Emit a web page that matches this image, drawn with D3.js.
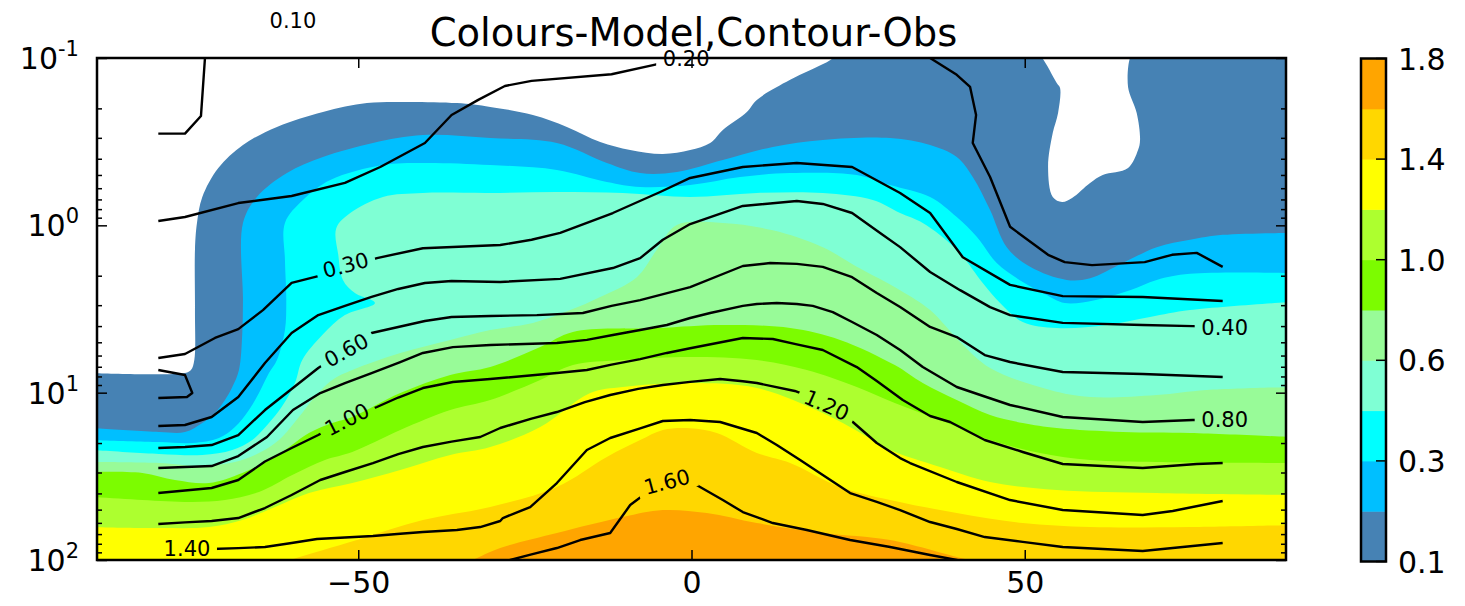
<!DOCTYPE html>
<html><head><meta charset="utf-8">
<script src="https://cdn.jsdelivr.net/npm/d3@7"></script>
<style>
body{margin:0;background:#fff}
svg{display:block}
text{font-family:"DejaVu Sans",sans-serif;fill:#000}
</style></head>
<body><svg id="c" width="1465" height="606"></svg>
<script>
// ---------------- DATA ----------------
const levels = [0.1,0.2,0.3,0.4,0.6,0.8,1.0,1.2,1.4,1.6,1.8];
const fillColors = ['#4682b4','#00bfff','#00ffff','#7fffd4','#98fb98','#7cfc00','#adff2f','#ffff00','#ffd700','#ffa500'];
const cbarTicks = [0.1,0.3,0.6,1.0,1.4,1.8];
const xTicks = [-50,0,50];
const yTickValues = [0.1,1,10,100];
const yTickExponents = ['-1','0','1','2'];
const yMinorTicks = [0.2,0.3,0.4,0.5,0.6,0.7,0.8,0.9,2,3,4,5,6,7,8,9,20,30,40,50,60,70,80,90];

// Model (filled) : lower boundary of each level, [latitude, pressure hPa]
const model010 = [[-90,7.63],[-76,7.63],[-75.1,7.32],[-74.6,6.38],[-74.5,3.21],[-74.5,1.40],[-74.2,0.968],[-73.4,0.677],[-71,0.454],[-67.3,0.331],[-62.2,0.258],[-55.3,0.210],[-48.7,0.186],[-43.3,0.183],[-35.2,0.186],[-30.2,0.196],[-23.8,0.219],[-18.7,0.258],[-13.7,0.318],[-9.2,0.355],[-4.3,0.375],[-0.2,0.355],[2.8,0.322],[4.7,0.269],[8.3,0.210],[9.8,0.178],[14.8,0.135],[20.3,0.106],[22.3,0.096],[52,0.096],[52.6,0.1],[54.8,0.141],[55.3,0.151],[55.0,0.213],[54.2,0.281],[53.5,0.448],[54.2,0.677],[55.6,0.725],[57.1,0.686],[59.8,0.558],[61.7,0.500],[65.5,0.454],[67.0,0.355],[67.3,0.309],[66.8,0.213],[65.5,0.149],[65.8,0.1],[66.2,0.096],[90,0.096]];
const model020 = [[-90,16.26],[-79.9,17.18],[-76,17.18],[-73.4,15.18],[-71.5,13.23],[-70,11.06],[-68.9,9.25],[-67.9,7.32],[-67.4,4.40],[-67.3,2.80],[-67.3,0.968],[-65.2,0.677],[-60.7,0.487],[-55.3,0.391],[-47.8,0.322],[-40.3,0.289],[-30.2,0.301],[-20.2,0.322],[-12.7,0.424],[-7.7,0.487],[-2.2,0.480],[4.7,0.407],[12.2,0.340],[19.7,0.309],[29.8,0.301],[35.8,0.331],[39.8,0.391],[42.2,0.514],[44.8,0.810],[47.3,1.35],[50.8,1.77],[56.3,2.12],[59.8,2.07],[64.7,1.68],[69.8,1.35],[74.8,1.22],[79.7,1.14],[90,1.11]];
const model030 = [[-90,19.18],[-79.9,19.72],[-74.9,19.99],[-70.9,18.66],[-68.5,16.04],[-66.4,12.70],[-64.9,10.05],[-63.4,7.63],[-62.2,6.38],[-61,4.22],[-60.8,2.80],[-61,1.61],[-61,0.968],[-58.3,0.706],[-54.2,0.536],[-46.3,0.436],[-40.3,0.424],[-30.2,0.436],[-20.2,0.467],[-12.7,0.551],[-7.7,0.590],[-0.2,0.574],[7.3,0.514],[14.8,0.487],[24.8,0.500],[29.8,0.574],[35.8,0.677],[39.8,0.892],[42.8,1.17],[45.8,1.68],[49.7,2.18],[53,2.57],[56,2.91],[60.5,2.80],[65.8,2.44],[69.8,2.12],[74.8,1.95],[90,1.93]];
const model040 = [[-90,22.01],[-79.9,23.26],[-73.4,23.58],[-68.9,22.01],[-65.9,19.18],[-63.4,15.18],[-61.5,12.18],[-59.5,8.76],[-58.4,6.38],[-55.4,4.52],[-52,3.44],[-47.5,2.91],[-50.5,2.54],[-52.3,2.12],[-53,1.50],[-53.3,1.04],[-51.2,0.844],[-46.3,0.677],[-40.3,0.641],[-30.2,0.641],[-20.2,0.632],[-10.3,0.641],[-0.2,0.677],[9.8,0.641],[19.7,0.641],[27.2,0.706],[31.3,0.844],[34.7,0.968],[39.8,1.40],[43.7,2.21],[46.3,2.91],[49.7,3.78],[54.8,4.11],[62.3,3.94],[68.8,3.53],[74.8,3.21],[90,2.87]];
const model060 = [[-90,25.97],[-79.9,26.33],[-73.4,27.44],[-68.5,25.97],[-64.9,22.94],[-61.9,19.18],[-58.9,13.98],[-56.9,11.06],[-53.9,8.40],[-50.9,7.32],[-43.7,5.79],[-36.2,4.84],[-30.2,4.22],[-23.8,3.83],[-18.2,3.21],[-13.7,2.68],[-8.2,2.04],[-5.2,1.40],[-2.2,0.995],[4.7,0.968],[12.2,1.07],[19.7,1.35],[24.8,1.77],[31.3,2.44],[35.8,3.21],[40.3,4.98],[44.8,7.12],[53.8,9.64],[59.8,10.62],[69.8,10.33],[77.3,9.64],[90,9.25]];
const model080 = [[-90,29.79],[-82.4,30.20],[-77.5,33.26],[-72.4,34.67],[-67.4,30.20],[-62.5,24.24],[-57.4,17.42],[-53.9,15.18],[-50.9,13.98],[-43.7,10.05],[-36.2,7.84],[-30.2,7.03],[-22.7,5.34],[-17.8,4.34],[-5.2,4.11],[4.7,3.94],[14.8,4.11],[22.3,4.84],[30.5,6.84],[34.7,8.76],[39.8,11.06],[44.8,13.60],[49.7,15.18],[54.8,16.26],[64.7,17.18],[74.8,17.42],[90,18.40]];
const model100 = [[-90,42.04],[-82.4,43.82],[-74.9,45.03],[-70,43.82],[-64.9,39.24],[-59.9,31.05],[-55,25.26],[-50.9,22.62],[-43.7,16.72],[-36.2,12.70],[-30.2,11.06],[-22.7,8.40],[-17.8,6.84],[-10.3,6.38],[-0.2,6.12],[9.8,6.38],[17.3,7.32],[24.8,9.25],[30.5,11.53],[37.3,14.57],[44.8,19.18],[52.3,22.94],[59.8,25.26],[69.8,25.97],[90,26.33]];
const model120 = [[-90,63.53],[-79.9,64.41],[-72.4,63.53],[-67.4,57.68],[-62.5,48.24],[-57.4,39.79],[-50.9,34.67],[-43.7,28.98],[-36.2,23.58],[-30.2,21.12],[-22.7,16.04],[-15.2,10.05],[-10.3,9.25],[-0.2,8.76],[9.8,9.38],[19.7,13.23],[27.2,19.18],[29.8,22.01],[37.3,27.81],[44.8,34.19],[54.8,38.17],[69.8,39.79],[90,40.90]];
const model140 = [[-90,130],[-64,112],[-60.2,100],[-50.2,76.0],[-40.3,57.7],[-30.2,48.2],[-20.2,36.6],[-12.7,24.2],[-7.7,19.2],[-4.3,16.7],[-0.2,16.3],[3.8,17.4],[9.8,22.9],[14.8,26.3],[22.3,36.6],[29.8,43.8],[39.8,52.4],[49.7,60.1],[59.8,63.5],[74.8,63.5],[90,61.8]];
const model160 = [[-90,130],[-37,112],[-33.2,101],[-28.7,84.8],[-20.2,69.0],[-10.3,55.4],[-4.3,50.3],[2.3,52.4],[9.8,60.1],[19.7,69.0],[29.8,76.0],[39.8,96.0],[42.5,102],[46,115],[90,130]];

// Obs (contour lines), [latitude, pressure hPa]
const obs010 = [[-80,0.283],[-76,0.283],[-73.6,0.222],[-73,0.1],[-72.8,0.085]];
const obs020 = [[-80,0.942],[-76,0.892],[-68,0.736],[-60,0.668],[-52,0.558],[-46.7,0.448],[-40,0.322],[-36,0.219],[-32,0.178],[-28,0.147],[-24,0.137],[-12,0.125],[-5.6,0.110],[-0.8,0.099],[4,0.092],[12,0.08],[24,0.075],[33,0.085],[35.8,0.1],[39.8,0.126],[41.8,0.149],[42.7,0.219],[42.2,0.322],[44.8,0.514],[47.8,1.02],[53.5,1.50],[56,1.66],[60.1,1.73],[68,1.66],[72.1,1.50],[75.8,1.46],[79.7,1.77]];
const obs030 = [[-80,6.21],[-76,5.87],[-71.5,4.71],[-68,4.17],[-64.3,3.21],[-60,2.21],[-56,2.01],[-47.2,1.57],[-40.3,1.37],[-28.7,1.31],[-24,1.22],[-19.7,1.11],[-11.8,0.844],[-4.7,0.632],[-0.2,0.521],[7.7,0.448],[15.8,0.424],[24.1,0.448],[31.3,0.641],[35.8,0.844],[40.7,1.55],[47.8,2.27],[55.7,2.65],[67.7,2.68],[79.7,2.83]];
const obsFold = [[-80,7.32],[-76,7.84],[-74.9,10.05],[-75.7,10.62],[-80,10.76]];
const obs040 = [[-80,15.82],[-76,15.60],[-72,13.98],[-68,10.62],[-64,6.65],[-60,4.40],[-56,3.44],[-52,3.03],[-48,2.68],[-44,2.40],[-40,2.21],[-36,2.15],[-28.7,2.18],[-19.7,2.09],[-11.8,1.80],[-7.7,1.57],[-4.3,1.22],[-0.2,0.982],[7.7,0.766],[15.8,0.716],[19.7,0.745],[24.1,0.844],[28.3,1.11],[31.3,1.35],[35.8,1.90],[40.3,2.44],[44.8,3.08],[47.8,3.44],[55.7,3.83],[67.7,3.94],[75.2,4.00],[80,4.05]];
const obs060 = [[-80,21.41],[-76,21.12],[-72,20.55],[-68,17.91],[-64,12.70],[-60,9.51],[-56,7.12],[-52,5.56],[-48,4.40],[-44,4.05],[-40,3.73],[-36,3.53],[-30.2,3.48],[-23.2,3.44],[-16.3,3.34],[-12,3.03],[-7.7,2.80],[-0.2,2.34],[7.7,1.75],[11.8,1.68],[15.8,1.70],[19.7,1.77],[24.1,2.04],[27.8,2.54],[31.3,3.08],[35.8,4.05],[39.8,4.65],[44,5.96],[47.8,6.56],[55.7,7.53],[67.7,7.74],[79.7,8.06]];
const obs080 = [[-80,28.20],[-76,27.81],[-72,27.44],[-68,23.91],[-63.7,18.40],[-59.8,12.70],[-55.7,10.05],[-52,8.76],[-48,7.63],[-43.7,6.56],[-40.3,5.79],[-35.8,5.34],[-30.2,5.19],[-20.2,5.05],[-15.7,4.84],[-11.8,4.52],[-7.7,4.22],[-3.7,3.94],[-0.2,3.58],[2.8,3.34],[7.7,3.03],[9.8,2.95],[12.8,2.91],[15.8,2.95],[18.2,3.03],[21.2,3.30],[24.1,3.78],[27.8,4.52],[31.3,5.56],[34.7,7.03],[39.8,9.25],[44,10.54],[47.8,11.85],[55.7,13.98],[67.7,14.97],[75.2,14.57],[80,14.57]];
const obs100 = [[-80,39.79],[-76,38.4],[-72,37.13],[-68,33.26],[-64,25.8],[-60,21.41],[-56,17.91],[-52,14.57],[-47.2,12.18],[-44,10.69],[-40.3,9.38],[-35.8,8.64],[-30.2,8.29],[-20.2,7.63],[-15.7,7.32],[-12,6.8],[-7.7,6.30],[-3.7,5.79],[-0.2,5.43],[7.7,4.71],[12.2,4.78],[15.8,5.14],[19.7,5.56],[24.8,7.03],[27.8,8.52],[31.7,11.06],[35.8,13.79],[38.8,14.97],[44,19.18],[49.7,22.62],[55.7,26.69],[67.7,28.20],[75.8,26.69],[79.7,26.33]];
const obs120 = [[-80,60.94],[-76,59.6],[-72,58.48],[-68,56.12],[-64,48.91],[-60,40.90],[-55.7,33.26],[-52,29.79],[-47.8,26.33],[-44,23.3],[-40.3,21.12],[-36,19.6],[-31.7,18.40],[-28.7,16.26],[-27.2,15.60],[-24,14.3],[-20.2,13.05],[-16,11.4],[-12.2,10.33],[-8,9.5],[-4.3,9.00],[-0.2,8.62],[4.3,8.29],[7.7,8.55],[9.8,8.76],[15.5,9.77],[20.3,11.53],[24.2,14.97],[27.8,19.99],[31.3,24.6],[32.8,26.33],[39.8,34.19],[47.8,43.82],[55.7,50.27],[67.7,53.84],[72.2,50.96],[79.7,44.43]];
const obs140 = [[-80,85.98],[-76,85.98],[-72,85.98],[-68,84.9],[-64,83.65],[-60,79.17],[-56.2,74.94],[-52,73.4],[-47.8,71.91],[-43.7,69.75],[-40.3,68.05],[-35.2,66.21],[-31.7,63.53],[-28.7,58.48],[-28.3,56.12],[-24.2,48.24],[-20.2,34.67],[-15.7,22.01],[-12.2,18.66],[-7.7,16.36],[-4.3,14.77],[-0.2,14.57],[4.3,14.97],[9.8,17.42],[12.8,20.55],[16.3,25.26],[19.7,31.1],[23.8,39.79],[27.8,45.0],[31.3,50.27],[35.8,59.29],[39.8,65.3],[44,72.91],[49.7,77.9],[55.7,83.65],[67.7,88.39],[79.7,79.17]];
const obs160 = [[-30,108],[-27.2,100],[-24,92.6],[-20.2,84.81],[-16.7,75.98],[-12.2,69.0],[-9.2,46.94],[-8.2,43.82],[-4,33],[0.5,35.14],[4.7,43.82],[7.7,51.67],[12.2,60.12],[17.3,66.21],[23.8,75.98],[29.8,83.65],[31.3,85.98],[35.8,93.3],[39.8,100],[42.5,107]];

// Contour labels
const obsLabelText  = ['0.10','0.20','0.30','0.60','1.00','1.20','1.60','1.40','0.40','0.80'];
const obsLabelLat   = [-59.8,-0.8,-51.9,-51.8,-51.7,20.3,-3.7,-75.7,80.0,80.0];
const obsLabelP     = [0.0593,0.1,1.726,5.56,14.43,11.85,34.05,85.1,4.06,14.43];
const obsLabelAngle = [0,0,-15,-29,-27,24,-15,0,0,0];

const titleText = 'Colours-Model,Contour-Obs';

// ---------------- DRAW ----------------
const modelBounds = [model010,model020,model030,model040,model060,model080,model100,model120,model140,model160];
const obsLines = [obs010,obs020,obs030,obsFold,obs040,obs060,obs080,obs100,obs120,obs140,obs160];

const W = 1465, H = 606;
const L = 97, R = 1286, T = 58, B = 560;
const x = d3.scaleLinear().domain([-89.2, 89.2]).range([L, R]);
const y = d3.scaleLog().domain([0.1, 100]).range([T, B]);

const svg = d3.select('#c');
svg.append('rect').attr('width', W).attr('height', H).attr('fill', '#fff');
const defs = svg.append('defs');
defs.append('clipPath').attr('id','plotclip').append('rect')
  .attr('x', L).attr('y', T).attr('width', R-L).attr('height', B-T);

const mask = defs.append('mask').attr('id','lblmask')
  .attr('maskUnits','userSpaceOnUse').attr('x',0).attr('y',0).attr('width',W).attr('height',H);
mask.append('rect').attr('x',0).attr('y',0).attr('width',W).attr('height',H).attr('fill','#fff');
obsLabelText.forEach((t,i) => {
  mask.append('rect')
    .attr('transform', `translate(${x(obsLabelLat[i])},${y(obsLabelP[i])}) rotate(${obsLabelAngle[i]})`)
    .attr('x', -30).attr('y', -12).attr('width', 60).attr('height', 24).attr('fill', '#000');
});

// filled model
const fillLine = d3.line().x(d => x(d[0])).y(d => y(d[1])).curve(d3.curveCatmullRom.alpha(0.5));
const gFill = svg.append('g').attr('clip-path','url(#plotclip)');
modelBounds.forEach((b, i) => {
  gFill.append('path')
    .attr('d', fillLine(b) + `L${x(90)},${y(130)}L${x(-90)},${y(130)}Z`)
    .attr('fill', fillColors[i]);
});

// obs contour lines
const lineGen = d3.line().x(d => x(d[0])).y(d => y(d[1]));
const gLines = svg.append('g').attr('clip-path','url(#plotclip)')
  .append('g').attr('mask','url(#lblmask)');
obsLines.forEach(l => {
  gLines.append('path').attr('d', lineGen(l)).attr('fill','none')
    .attr('stroke','#000').attr('stroke-width',2.4).attr('stroke-linejoin','round');
});

// contour labels
obsLabelText.forEach((t,i) => {
  svg.append('text')
    .attr('transform', `translate(${x(obsLabelLat[i])},${y(obsLabelP[i])}) rotate(${obsLabelAngle[i]})`)
    .attr('text-anchor','middle').attr('dy','0.36em')
    .style('font-size','21px').text(t);
});

// axes
function styleAxis(g) {
  g.select('.domain').remove();
  g.selectAll('.tick line').attr('stroke','#000').attr('stroke-width',1.5);
  g.selectAll('text').style('font-size','30px').style('font-family','"DejaVu Sans",sans-serif');
}
svg.append('g').attr('transform',`translate(0,${B})`)
  .call(d3.axisBottom(x).tickValues(xTicks).tickSize(-10).tickPadding(12).tickFormat(d3.format('d')))
  .call(styleAxis);
svg.append('g').attr('transform',`translate(0,${T})`)
  .call(d3.axisTop(x).tickValues(xTicks).tickSize(-10).tickFormat(''))
  .call(styleAxis);
svg.append('g').attr('transform',`translate(${L},0)`)
  .call(d3.axisLeft(y).tickValues(yTickValues).tickSize(-10).tickFormat(''))
  .call(styleAxis);
svg.append('g').attr('transform',`translate(${L},0)`)
  .call(d3.axisLeft(y).tickValues(yMinorTicks).tickSize(-5).tickFormat(''))
  .call(styleAxis);
svg.append('g').attr('transform',`translate(${R},0)`)
  .call(d3.axisRight(y).tickValues(yTickValues).tickSize(-10).tickFormat(''))
  .call(styleAxis);
svg.append('g').attr('transform',`translate(${R},0)`)
  .call(d3.axisRight(y).tickValues(yMinorTicks).tickSize(-5).tickFormat(''))
  .call(styleAxis);

// y tick labels 10^n
yTickValues.forEach((v,i) => {
  const t = svg.append('text').attr('x', 79).attr('y', y(v) + 11).attr('text-anchor','end');
  t.append('tspan').style('font-size','30px').text('10');
  t.append('tspan').style('font-size','21px').attr('dy', -13).text(yTickExponents[i]);
});

// frame
svg.append('rect').attr('x',L).attr('y',T).attr('width',R-L).attr('height',B-T)
  .attr('fill','none').attr('stroke','#000').attr('stroke-width',2.5);

// title
svg.append('text').attr('x', (L+R)/2 + 2).attr('y', 46).attr('text-anchor','middle')
  .style('font-size','38.5px').text(titleText);

// colorbar
const cbX = 1361, cbW = 25, cbT = 58.5, cbB = 561.5;
const cy = d3.scalePoint().domain(levels).range([cbB, cbT]);
const gcb = svg.append('g');
fillColors.forEach((c,i) => {
  gcb.append('rect').attr('x', cbX).attr('y', cy(levels[i+1]))
    .attr('width', cbW).attr('height', cy(levels[i]) - cy(levels[i+1]) + 0.5)
    .attr('fill', c);
});
cbarTicks.forEach(v => {
  gcb.append('line').attr('x1', cbX + cbW - 10).attr('x2', cbX + cbW)
    .attr('y1', cy(v)).attr('y2', cy(v)).attr('stroke','#000').attr('stroke-width',1.5);
  gcb.append('text').attr('x', 1398).attr('y', cy(v) + 11)
    .style('font-size','30px').text(d3.format('.1f')(v));
});
gcb.append('rect').attr('x', cbX).attr('y', cbT).attr('width', cbW).attr('height', cbB - cbT)
  .attr('fill','none').attr('stroke','#000').attr('stroke-width',2.5);
</script>
</body></html>
